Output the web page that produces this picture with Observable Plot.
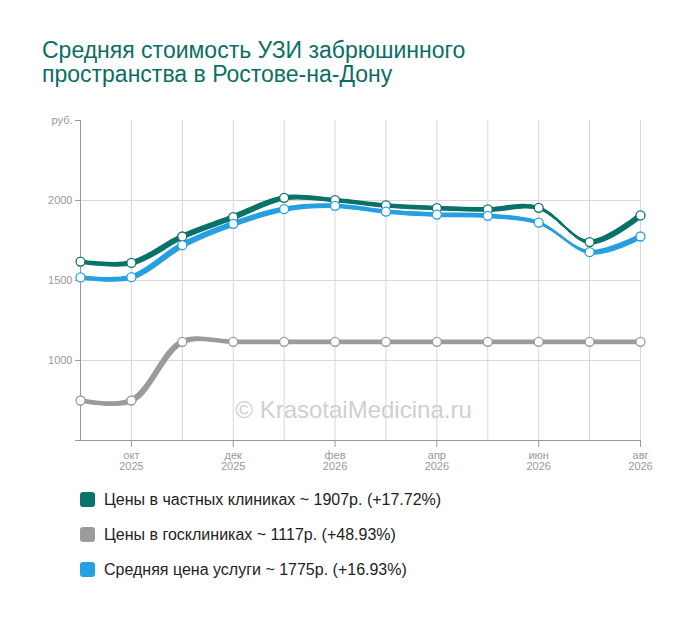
<!DOCTYPE html>
<html>
<head>
<meta charset="utf-8">
<script src="https://cdn.jsdelivr.net/npm/d3@7"></script>
<script src="https://cdn.jsdelivr.net/npm/@observablehq/plot@0.6"></script>
<style>
  body { margin: 0; background: #fff; font-family: "Liberation Sans", Arial, sans-serif; }
  #wrap { position: relative; width: 700px; height: 617px; }
  #title { position: absolute; left: 42px; top: 38px; font-size: 23px; line-height: 24px; color: #0b6e66; }
  #chart { position: absolute; left: 0; top: 100px; }
  #legend { position: absolute; left: 80px; top: 482px; font-size: 16px; color: #222; }
  .row { display: flex; align-items: center; height: 35px; }
  .sw { width: 15px; height: 15px; border-radius: 3px; margin-right: 9px; }
</style>
</head>
<body>
<div id="wrap">
  <div id="title">Средняя стоимость УЗИ забрюшинного<br>пространства в Ростове-на-Дону</div>
  <div id="chart"></div>
  <div id="legend"></div>
</div>
<script>
const months = ["сен\n2025","окт\n2025","ноя\n2025","дек\n2025","янв\n2026","фев\n2026","мар\n2026","апр\n2026","май\n2026","июн\n2026","июл\n2026","авг\n2026"];
const seriesNames = ["Цены в частных клиниках", "Цены в госклиниках", "Средняя цена услуги"];
const seriesColors = ["#0b7369", "#9b9b9b", "#26a0e2"];
const privateValues = [1618, 1610, 1775, 1896, 2017, 2002, 1969, 1952, 1944, 1954, 1740, 1907];
const publicValues  = [750, 750, 1117, 1117, 1117, 1117, 1117, 1117, 1117, 1117, 1117, 1117];
const averageValues = [1519, 1521, 1721, 1854, 1946, 1967, 1931, 1912, 1904, 1862, 1677, 1775];
const legendTexts = ["Цены в частных клиниках ~ 1907р. (+17.72%)", "Цены в госклиниках ~ 1117р. (+48.93%)", "Средняя цена услуги ~ 1775р. (+16.93%)"];
const yTicks = [1000, 1500, 2000, 2500];
const xLabelTicks = [1, 3, 5, 7, 9, 11];
const watermark = "© KrasotaiMedicina.ru";

const valuesBySeries = [privateValues, publicValues, averageValues];
const data = [];
valuesBySeries.forEach((vals, s) => vals.forEach((v, i) => data.push({i, v, series: seriesNames[s]})));

const drawOrder = [seriesNames[1], seriesNames[0], seriesNames[2]];
const offsets = [-1.5, -1, -0.5, 0, 0.5, 1, 1.5];
const lineMarks = [];
for (const name of drawOrder) {
  const d = data.filter(r => r.series === name);
  for (const o of offsets) {
    lineMarks.push(Plot.line(d, {x: "i", y: "v", stroke: "series", strokeWidth: 1.8, curve: "catmull-rom", dx: o, dy: o}));
  }
}

const plot = Plot.plot({
  width: 700,
  height: 385,
  marginTop: 20,
  marginBottom: 45,
  marginLeft: 80,
  marginRight: 60,
  style: {fontFamily: "'Liberation Sans', Arial, sans-serif", fontSize: "11px"},
  x: {type: "linear", domain: [0, months.length - 1]},
  y: {domain: [500, 2500]},
  color: {domain: seriesNames, range: seriesColors},
  marks: [
    Plot.gridX({ticks: d3.range(1, months.length), stroke: "#d8d8d8", strokeOpacity: 1}),
    Plot.gridY({ticks: [1000, 1500, 2000], stroke: "#d8d8d8", strokeOpacity: 1}),
    Plot.text([watermark], {frameAnchor: "middle", dx: -7, dy: 130, fontSize: 24, fill: "#cfcfcf"}),
    Plot.ruleX([0], {stroke: "#999"}),
    Plot.ruleY([500], {stroke: "#999", insetLeft: -5}),
    Plot.axisY({ticks: yTicks, tickFormat: d => d === 2500 ? "руб." : String(d), tickSize: 5, tickPadding: 3, color: "#999", label: null}),
    Plot.axisX({ticks: xLabelTicks, tickFormat: i => months[i], tickSize: 7, tickPadding: 4, color: "#999", label: null}),
    ...lineMarks,
    Plot.dot(data, {x: "i", y: "v", stroke: "series", fill: "white", r: 4.5, strokeWidth: 1.3})
  ]
});
document.getElementById("chart").append(plot);

const legend = document.getElementById("legend");
seriesNames.forEach((n, k) => {
  const row = document.createElement("div");
  row.className = "row";
  const sw = document.createElement("div");
  sw.className = "sw";
  sw.style.background = seriesColors[k];
  const t = document.createElement("span");
  t.textContent = legendTexts[k];
  row.append(sw, t);
  legend.append(row);
});
</script>
</body>
</html>
